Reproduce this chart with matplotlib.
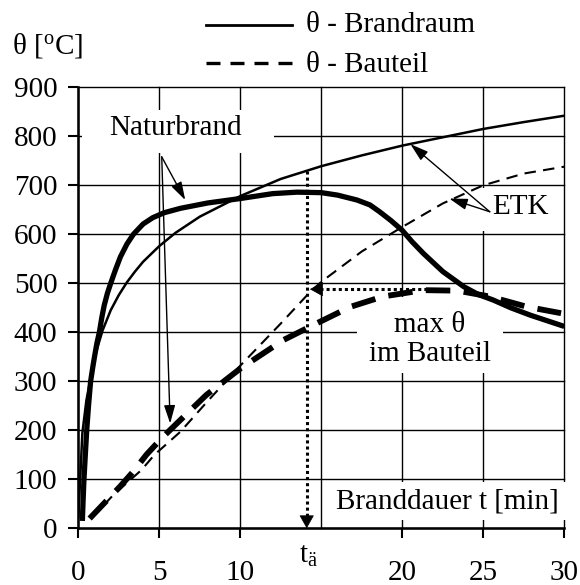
import matplotlib
matplotlib.use('Agg')
import matplotlib.pyplot as plt
from matplotlib.patches import Rectangle
from matplotlib.lines import Line2D

plt.rcParams['font.family'] = ['Liberation Serif', 'DejaVu Serif']
plt.rcParams['mathtext.fontset'] = 'custom'
plt.rcParams['mathtext.rm'] = 'Liberation Serif'
plt.rcParams['mathtext.it'] = 'Liberation Serif:italic'

# ---------------- data ----------------
# Einheits-Temperaturzeitkurve (ETK), Brandraum
etk_t = [0, 0.25, 0.5, 1, 1.5, 2, 2.5, 3, 3.5, 4, 5, 6, 7.5, 10, 12.5, 15,
         17.5, 20, 22.5, 25, 27.5, 30]
etk_T = [20, 194, 261, 349, 404, 445, 476, 502, 524, 544, 576, 603, 636, 678,
         713, 739, 761, 781, 798, 815, 829, 842]

# Naturbrand, Brandraum
nb_t = [0.25, 0.3, 0.35, 0.45, 0.52, 0.63, 0.76, 0.9, 1.0, 1.15, 1.3, 1.45,
        1.6, 1.8, 2.0, 2.3, 2.6, 3.0, 3.4, 4.0, 4.6, 5.3, 6.3, 8, 10, 12, 13.5,
        15, 16, 17.2, 18.0, 18.6, 19.3, 20, 20.6, 21.3, 22.5, 23.8, 24.7, 25.6,
        26.7, 27.9, 30]
nb_T = [15, 60, 100, 160, 200, 250, 300, 330, 350, 378, 400, 430,
        455, 480, 500, 528, 554, 580, 600, 621, 634, 644, 653, 664, 673, 683, 686,
        685, 680, 670, 660, 646, 628, 608, 585, 561, 524, 493, 477, 466,
        450, 435, 412]

# Bauteil unter ETK
betk_t = [0.8, 2.16, 3.9, 4.7, 6.3, 8, 10, 12.5, 14.3, 15, 17.5, 20, 22.5,
          25, 27.5, 30]
betk_T = [20, 68, 119, 150, 197, 260, 332, 418, 482, 503, 565, 615, 663,
          700, 724, 738]

# Bauteil unter Naturbrand
bnb_t = [0.7, 2.57, 3.4, 4.2, 5.15, 6.3, 7.9, 10, 12.65, 14.7, 16.8, 18.8,
         21.3, 23.4, 25.4, 27.7, 29.8]
bnb_T = [20, 85, 116, 150, 184, 221, 272, 326, 384, 418, 452, 473, 486,
         485, 473, 452, 439]

t_ae = 14.1          # aequivalente Branddauer
T_ae_top = 729       # ETK at t_ae
T_max = 488          # max theta im Bauteil
t_max = 21.9

x_grid = [0, 5, 10, 15, 20, 25, 30]
x_ticks = [0, 5, 10, 20, 25, 30]
x_ticklabels = ['0', '5', '10', '20', '25', '30']
y_ticks = [0, 100, 200, 300, 400, 500, 600, 700, 800, 900]

# ---------------- figure ----------------
W, H = 580, 585
fig = plt.figure(figsize=(W / 100, H / 100), dpi=100)
ax = fig.add_axes([78.3 / W, (H - 528.3) / H, (564.3 - 78.3) / W, (528.3 - 87.3) / H])
ax.set_xlim(0, 30)
ax.set_ylim(0, 900)

FS = 21

# grid (drawn manually so the boxes can hide parts of it)
for gx in x_grid:
    ax.axvline(gx, color='k', lw=1.0, zorder=1, clip_on=False)
for gy in y_ticks:
    ax.axhline(gy, color='k', lw=1.0, zorder=1, clip_on=False)

for s in ['top', 'right']:
    ax.spines[s].set_visible(False)
for s in ['left', 'bottom']:
    ax.spines[s].set_linewidth(1.8)
    ax.spines[s].set_zorder(2.5)

ax.set_xticks(x_ticks)
ax.set_xticklabels(x_ticklabels)
ax.set_yticks(y_ticks)
ax.tick_params(axis='x', direction='out', length=7, width=1.5, pad=16, labelsize=FS)
ax.tick_params(axis='y', direction='out', length=7, width=1.5, pad=8, labelsize=FS)

# white masks behind the annotation texts
def mask(t0, t1, T0, T1):
    ax.add_patch(Rectangle((t0, T0), t1 - t0, T1 - T0, facecolor='white',
                           edgecolor='none', zorder=1.5, clip_on=False))

mask(0.21, 12.1, 766, 854)      # Naturbrand
mask(24.6, 29.6, 606, 694)      # ETK
mask(17.2, 26.2, 316, 473)      # max theta im Bauteil
mask(15.5, 30.4, 17, 94.5)      # Branddauer

# curves
ax.plot(etk_t, etk_T, color='k', lw=1.8, zorder=3, solid_capstyle='butt')
ax.plot(nb_t, nb_T, color='k', lw=3.8, zorder=3.2, solid_capstyle='butt',
        solid_joinstyle='round')
ax.plot(betk_t, betk_T, color='k', lw=1.5, zorder=3, dashes=(5.5, 3.5),
        dash_capstyle='butt')
ax.plot(bnb_t, bnb_T, color='k', lw=4.2, zorder=3.1, dashes=(4.2, 2.3),
        dash_capstyle='butt')

# dotted construction lines
ax.plot([t_ae, t_ae], [T_ae_top, 24], color='k', lw=2.2, dashes=(1, 1),
        zorder=3.3)
ax.plot([t_max, t_ae + 0.7], [T_max, T_max], color='k', lw=2.2, dashes=(1, 1),
        zorder=3.3)
head = dict(arrowstyle='-|>,head_length=0.5,head_width=0.28', color='k', lw=0.5,
            mutation_scale=17, shrinkA=0, shrinkB=0)
ax.annotate('', xy=(t_ae, 0), xytext=(t_ae, 26), arrowprops=head, zorder=3.4)
ax.annotate('', xy=(t_ae + 0.2, T_max), xytext=(t_ae + 0.95, T_max),
            arrowprops=head, zorder=3.4)

# texts
ax.text(6.03, 817, 'Naturbrand', fontsize=FS, ha='center', va='center', zorder=4)
ax.text(27.3, 655, 'ETK', fontsize=FS, ha='center', va='center', zorder=4)
ax.text(21.7, 386, 'max θ\nim Bauteil', fontsize=FS, ha='center', va='center',
        zorder=4, linespacing=1.15)
ax.text(22.8, 54, 'Branddauer t [min]', fontsize=FS, ha='center', va='center',
        zorder=4)

# thin pointer arrows
ptr = dict(arrowstyle='-|>,head_length=0.65,head_width=0.2', color='k', lw=1.0,
           mutation_scale=17, shrinkA=0, shrinkB=0)
ax.annotate('', xy=(6.6, 670), xytext=(5.15, 758), arrowprops=ptr, zorder=3.5)
ax.annotate('', xy=(5.67, 214), xytext=(5.15, 758), arrowprops=ptr, zorder=3.5)
ax.annotate('', xy=(20.5, 784), xytext=(25.4, 646), arrowprops=ptr, zorder=3.5)
ax.annotate('', xy=(22.9, 673), xytext=(25.4, 646), arrowprops=ptr, zorder=3.5)

# t_ae label
ax.annotate(r't$_{\mathrm{ä}}$', xy=(t_ae, 0), xycoords=('data', 'axes fraction'),
            xytext=(1.5, -20), textcoords='offset points', ha='center',
            va='center', fontsize=FS, annotation_clip=False)

# y-axis label and legend (figure pixel positions)
def fx(px):
    return px / W

def fy(py):
    return 1 - py / H

fig.text(fx(12), fy(45), r'θ [$^{\mathrm{o}}$C]', fontsize=FS, ha='left', va='center')
fig.add_artist(Line2D([fx(206), fx(292)], [fy(25), fy(25)], color='k', lw=2.0,
                      transform=fig.transFigure))
fig.add_artist(Line2D([fx(206), fx(293)], [fy(63), fy(63)], color='k', lw=2.4,
                      dashes=(4.2, 3.0), dash_capstyle='butt',
                      transform=fig.transFigure))
fig.text(fx(306), fy(25), 'θ - Brandraum', fontsize=FS, ha='left', va='center')
fig.text(fx(306), fy(65), 'θ - Bauteil', fontsize=FS, ha='left', va='center')

fig.savefig('out.png', dpi=100, facecolor='white')
